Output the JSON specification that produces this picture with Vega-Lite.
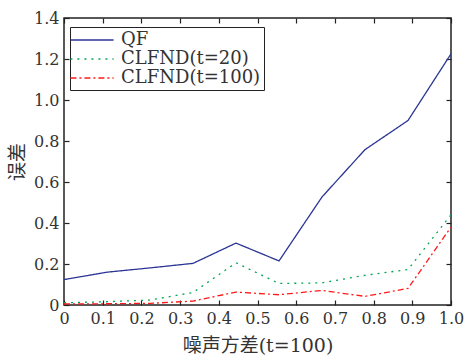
{
  "$schema": "https://vega.github.io/schema/vega-lite/v6.json",
  "width": 387,
  "height": 287,
  "autosize": "none",
  "padding": {"left": 64, "top": 18, "right": 13, "bottom": 50},
  "background": "white",
  "config": {
    "view": {"stroke": "#222", "strokeWidth": 1.5},
    "font": "DejaVu Serif, Noto Sans CJK SC",
    "axis": {"grid": false, "domain": false, "tickColor": "#222", "tickWidth": 1.2, "labelColor": "#333", "titleColor": "#333", "titleFontWeight": "normal", "labelFontSize": 16, "titleFontSize": 19}
  },
  "data": {
    "values": [
      {"x": 0, "series": "QF", "y": 0.124},
      {"x": 0.1111, "series": "QF", "y": 0.16},
      {"x": 0.2222, "series": "QF", "y": 0.181},
      {"x": 0.3333, "series": "QF", "y": 0.203},
      {"x": 0.4444, "series": "QF", "y": 0.302},
      {"x": 0.5556, "series": "QF", "y": 0.215},
      {"x": 0.6667, "series": "QF", "y": 0.527},
      {"x": 0.7778, "series": "QF", "y": 0.758},
      {"x": 0.8889, "series": "QF", "y": 0.9},
      {"x": 1, "series": "QF", "y": 1.225},
      {"x": 0, "series": "CLFND(t=20)", "y": 0.011},
      {"x": 0.1111, "series": "CLFND(t=20)", "y": 0.016},
      {"x": 0.2222, "series": "CLFND(t=20)", "y": 0.024},
      {"x": 0.3333, "series": "CLFND(t=20)", "y": 0.061},
      {"x": 0.4444, "series": "CLFND(t=20)", "y": 0.206},
      {"x": 0.5556, "series": "CLFND(t=20)", "y": 0.105},
      {"x": 0.6667, "series": "CLFND(t=20)", "y": 0.108},
      {"x": 0.7778, "series": "CLFND(t=20)", "y": 0.145},
      {"x": 0.8889, "series": "CLFND(t=20)", "y": 0.173},
      {"x": 1, "series": "CLFND(t=20)", "y": 0.44},
      {"x": 0, "series": "CLFND(t=100)", "y": 0.005},
      {"x": 0.1111, "series": "CLFND(t=100)", "y": 0.006},
      {"x": 0.2222, "series": "CLFND(t=100)", "y": 0.008},
      {"x": 0.3333, "series": "CLFND(t=100)", "y": 0.019},
      {"x": 0.4444, "series": "CLFND(t=100)", "y": 0.063},
      {"x": 0.5556, "series": "CLFND(t=100)", "y": 0.05},
      {"x": 0.6667, "series": "CLFND(t=100)", "y": 0.071},
      {"x": 0.7778, "series": "CLFND(t=100)", "y": 0.042},
      {"x": 0.8889, "series": "CLFND(t=100)", "y": 0.081},
      {"x": 1, "series": "CLFND(t=100)", "y": 0.38}
    ]
  },
  "resolve": {"axis": {"x": "independent", "y": "independent"}},
  "layer": [
    {
      "mark": {"type": "line", "strokeWidth": 1.3, "clip": true},
      "encoding": {
        "x": {"field": "x", "type": "quantitative", "scale": {"domain": [0, 1], "nice": false},
          "axis": {"orient": "bottom", "values": [0, 0.1, 0.2, 0.3, 0.4, 0.5, 0.6, 0.7, 0.8, 0.9, 1], "labelExpr": "datum.value == 0 ? '0' : format(datum.value, '.1f')", "tickSize": -5, "labelPadding": 10, "labelFlush": false, "title": "噪声方差(t=100)", "titlePadding": 10}},
        "y": {"field": "y", "type": "quantitative", "scale": {"domain": [0, 1.4], "nice": false},
          "axis": {"orient": "left", "values": [0, 0.2, 0.4, 0.6, 0.8, 1, 1.2, 1.4], "labelExpr": "datum.value == 0 ? '0' : format(datum.value, '.1f')", "tickSize": -5, "labelPadding": 10, "title": "误差", "titlePadding": 6}},
        "color": {"field": "series", "type": "nominal", "sort": null,
          "scale": {"domain": ["QF", "CLFND(t=20)", "CLFND(t=100)"], "range": ["#2B3595", "#00A651", "#FF1A1A"]},
          "legend": {"title": null, "orient": "none", "legendX": 6, "legendY": 9, "symbolType": "M-2.4,0H2.4", "symbolSize": 324, "symbolStrokeWidth": 1.3, "symbolFillColor": "transparent", "symbolOffset": 9, "labelFontSize": 18, "labelColor": "#333", "strokeColor": "#222", "fillColor": "white", "padding": 3, "rowPadding": 0, "labelOffset": 19, "cornerRadius": 0}},
        "strokeDash": {"field": "series", "type": "nominal", "sort": null,
          "scale": {"domain": ["QF", "CLFND(t=20)", "CLFND(t=100)"], "range": [[1, 0], [2, 5], [6, 3, 2, 3]]},
          "legend": {"title": null, "orient": "none", "legendX": 6, "legendY": 9, "symbolType": "M-2.4,0H2.4", "symbolSize": 324, "symbolStrokeWidth": 1.3, "symbolFillColor": "transparent", "symbolOffset": 9, "labelFontSize": 18, "labelColor": "#333", "strokeColor": "#222", "fillColor": "white", "padding": 3, "rowPadding": 0, "labelOffset": 19, "cornerRadius": 0}}
      }
    },
    {
      "mark": {"type": "line", "opacity": 0},
      "encoding": {
        "x": {"field": "x", "type": "quantitative", "scale": {"domain": [0, 1], "nice": false},
          "axis": {"orient": "top", "values": [0, 0.1, 0.2, 0.3, 0.4, 0.5, 0.6, 0.7, 0.8, 0.9, 1], "labels": false, "tickSize": -5, "title": null}},
        "y": {"field": "y", "type": "quantitative", "scale": {"domain": [0, 1.4], "nice": false},
          "axis": {"orient": "right", "values": [0, 0.2, 0.4, 0.6, 0.8, 1, 1.2, 1.4], "labels": false, "tickSize": -5, "title": null}},
        "detail": {"field": "series"}
      }
    }
  ]
}
